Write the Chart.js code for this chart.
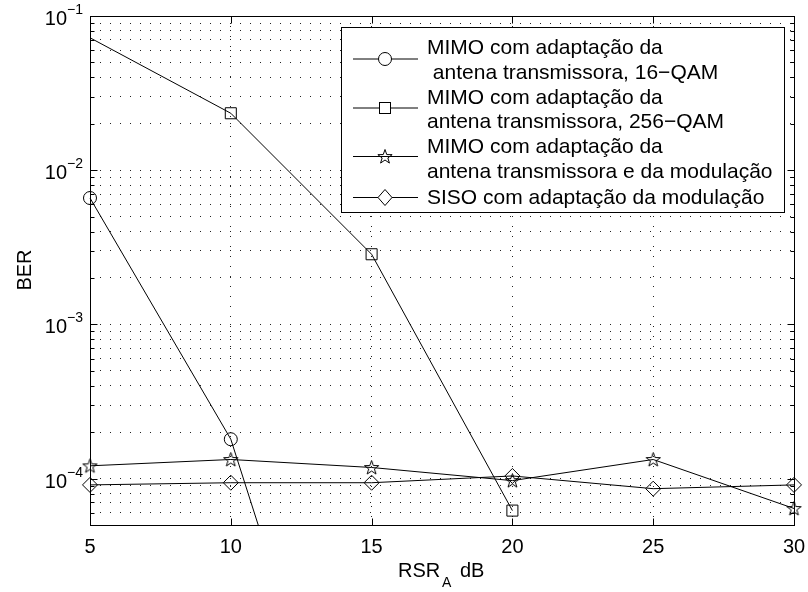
<!DOCTYPE html>
<html>
<head>
<meta charset="utf-8">
<script src="https://cdn.jsdelivr.net/npm/chart.js@4.4.1/dist/chart.umd.min.js"></script>
<style>
  html, body { margin: 0; padding: 0; background: #fff; }
  canvas { display: block; }
</style>
</head>
<body>
<canvas id="berChart" width="808" height="592"></canvas>
<script>
// ---- Data ----
const snr16 = [5, 10, 15];
const ber16 = [6.6e-3, 1.8e-4, 2.5e-7];

const snr256 = [0, 10, 15, 20];
const ber256 = [0.223, 0.0234, 2.85e-3, 6.2e-5];

const snrAdapt = [5, 10, 15, 20, 25, 30];
const berMimoAdapt = [1.21e-4, 1.33e-4, 1.18e-4, 9.7e-5, 1.33e-4, 6.4e-5];
const berSiso = [9.1e-5, 9.4e-5, 9.4e-5, 1.04e-4, 8.6e-5, 9.1e-5];

const xTicks = [5, 10, 15, 20, 25, 30];
const yExponents = [-4, -3, -2, -1];
const yMantissas = [1, 2, 3, 4, 5, 6, 7, 8, 9];
const yMin = 5e-5, yMax = 1e-1;

const legendLabels = [
  ['MIMO com adaptação da', ' antena transmissora, 16\u2212QAM'],
  ['MIMO com adaptação da', 'antena transmissora, 256\u2212QAM'],
  ['MIMO com adaptação da', 'antena transmissora e da modulação'],
  ['SISO com adaptação da modulação']
];

// grid positions on the log axis: 5e-5 .. 1e-1
let yGrid = [];
[-5, ...yExponents].forEach(e => yMantissas.forEach(m => {
  const v = +(m * Math.pow(10, e)).toPrecision(3);
  if (v >= yMin && v <= yMax) yGrid.push(v);
}));

const FONT = '"Liberation Sans", Arial, Helvetica, sans-serif';

// ---- markers ----
function drawStar(ctx, cx, cy, r) {
  ctx.beginPath();
  for (let i = 0; i < 10; i++) {
    const rr = i % 2 === 0 ? r : r * 0.4;
    const ang = -Math.PI / 2 + i * Math.PI / 5;
    const px = cx + rr * Math.cos(ang), py = cy + rr * Math.sin(ang);
    i === 0 ? ctx.moveTo(px, py) : ctx.lineTo(px, py);
  }
  ctx.closePath();
  ctx.stroke();
}
const starImg = document.createElement('canvas');
starImg.width = 17; starImg.height = 17;
(() => {
  const c = starImg.getContext('2d');
  c.strokeStyle = '#000'; c.lineWidth = 1;
  drawStar(c, 8.5, 9, 7.5);
})();

function drawMarker(ctx, kind, cx, cy) {
  ctx.save();
  ctx.strokeStyle = '#000'; ctx.lineWidth = 1;
  if (kind === 'circle') {
    ctx.beginPath(); ctx.arc(cx, cy, 6.5, 0, Math.PI * 2); ctx.stroke();
  } else if (kind === 'rect') {
    ctx.strokeRect(cx - 5.5, cy - 5.5, 11, 11);
  } else if (kind === 'star') {
    drawStar(ctx, cx, cy + 0.5, 7.5);
  } else {
    ctx.beginPath();
    ctx.moveTo(cx, cy - 8); ctx.lineTo(cx + 7, cy); ctx.lineTo(cx, cy + 8); ctx.lineTo(cx - 7, cy);
    ctx.closePath(); ctx.stroke();
  }
  ctx.restore();
}

const toPts = (xs, ys) => xs.map((v, i) => ({ x: v, y: ys[i] }));
const baseSet = {
  borderColor: '#000',
  borderWidth: 1,
  backgroundColor: 'rgba(0,0,0,0)',
  pointBorderColor: '#000',
  pointBorderWidth: 1,
  tension: 0,
  clip: { left: 10, right: 10, top: 0, bottom: 0 }
};

// ---- frame, ticks, labels, legend ----
const frame = {
  id: 'frame',
  afterDraw(chart) {
    const { ctx, chartArea: a, scales: { x, y } } = chart;
    ctx.save();
    ctx.strokeStyle = '#000';
    ctx.lineWidth = 1;
    const L = Math.round(a.left) + 0.5, R = Math.round(a.right) + 0.5;
    const T = Math.round(a.top) + 0.5, B = Math.round(a.bottom) + 0.5;
    ctx.strokeRect(L, T, R - L, B - T);

    // tick marks
    ctx.beginPath();
    xTicks.forEach(v => {
      const px = Math.round(x.getPixelForValue(v)) + 0.5;
      ctx.moveTo(px, B); ctx.lineTo(px, B - 7);
      ctx.moveTo(px, T); ctx.lineTo(px, T + 7);
    });
    yGrid.forEach(v => {
      const py = Math.round(y.getPixelForValue(v)) + 0.5;
      const len = yExponents.some(e => Math.abs(Math.pow(10, e) - v) < v * 1e-6) ? 7 : 4;
      ctx.moveTo(L, py); ctx.lineTo(L + len, py);
      ctx.moveTo(R, py); ctx.lineTo(R - len, py);
    });
    ctx.stroke();

    // tick labels
    ctx.fillStyle = '#000';
    ctx.font = '20px ' + FONT;
    ctx.textAlign = 'center';
    ctx.textBaseline = 'alphabetic';
    xTicks.forEach(v => ctx.fillText(String(v), x.getPixelForValue(v), a.bottom + 28));
    yExponents.forEach(e => {
      const py = y.getPixelForValue(Math.pow(10, e));
      ctx.font = '20px ' + FONT;
      ctx.textAlign = 'right';
      ctx.fillText('10', 67, py + 9);
      ctx.font = '14px ' + FONT;
      ctx.textAlign = 'left';
      ctx.fillText('\u2212' + Math.abs(e), 67, py - 2);
    });

    // axis titles
    ctx.font = '20px ' + FONT;
    ctx.textAlign = 'left';
    ctx.fillText('RSR', 398, 577);
    ctx.font = '14px ' + FONT;
    ctx.fillText('A', 442, 587);
    ctx.font = '20px ' + FONT;
    ctx.fillText('dB', 460, 577);
    ctx.save();
    ctx.translate(31, 270);
    ctx.rotate(-Math.PI / 2);
    ctx.textAlign = 'center';
    ctx.fillText('BER', 0, 0);
    ctx.restore();

    // legend
    const lx = 341.5, ly = 27.5, lw = 443, lh = 185;
    ctx.fillStyle = '#fff';
    ctx.fillRect(lx, ly, lw, lh);
    ctx.strokeRect(lx, ly, lw, lh);
    const kinds = ['circle', 'rect', 'star', 'diamond'];
    const markerY = [58.5, 107.5, 156, 197];
    const textY = [[54, 79], [103.5, 128], [153, 177.5], [204]];
    ctx.fillStyle = '#000';
    ctx.font = '21px ' + FONT;
    ctx.textAlign = 'left';
    kinds.forEach((k, i) => {
      const my = markerY[i] + 0.5;
      ctx.beginPath();
      ctx.moveTo(353, my); ctx.lineTo(418, my);
      ctx.stroke();
      ctx.fillStyle = '#fff';
      if (k === 'circle') { ctx.beginPath(); ctx.arc(385, my, 6.5, 0, Math.PI * 2); ctx.fill(); }
      if (k === 'rect') ctx.fillRect(379.5, my - 5.5, 11, 11);
      if (k === 'diamond') { ctx.beginPath(); ctx.moveTo(385, my - 8); ctx.lineTo(392, my); ctx.lineTo(385, my + 8); ctx.lineTo(378, my); ctx.fill(); }
      ctx.fillStyle = '#000';
      drawMarker(ctx, k, 385, my);
      legendLabels[i].forEach((t, j) => ctx.fillText(t, 427, textY[i][j]));
    });
    ctx.restore();
  }
};

new Chart(document.getElementById('berChart'), {
  type: 'line',
  data: {
    datasets: [
      { ...baseSet, label: legendLabels[0].join(''), data: toPts(snr16, ber16), pointStyle: 'circle', pointRadius: 6.5 },
      { ...baseSet, label: legendLabels[1].join(''), data: toPts(snr256, ber256), pointStyle: 'rect', pointRadius: 7.8, clip: 0 },
      { ...baseSet, label: legendLabels[2].join(''), data: toPts(snrAdapt, berMimoAdapt), pointStyle: starImg, pointRadius: 8 },
      { ...baseSet, label: legendLabels[3].join(''), data: toPts(snrAdapt, berSiso), pointStyle: 'rectRot', pointRadius: 7.5 }
    ]
  },
  options: {
    responsive: false,
    animation: false,
    events: [],
    layout: { padding: { left: 90, top: 16, right: 14, bottom: 67 } },
    plugins: { legend: { display: false }, tooltip: { enabled: false } },
    scales: {
      x: {
        type: 'linear',
        min: 5,
        max: 30,
        ticks: { display: false, stepSize: 5 },
        grid: { color: '#222', lineWidth: 1, drawTicks: false },
        border: { display: false, dash: [1, 9] }
      },
      y: {
        type: 'logarithmic',
        min: yMin,
        max: yMax,
        afterBuildTicks: scale => { scale.ticks = yGrid.map(v => ({ value: v })); },
        ticks: { display: false },
        grid: { color: '#222', lineWidth: 1, drawTicks: false },
        border: { display: false, dash: [1, 9] }
      }
    }
  },
  plugins: [frame]
});
</script>
</body>
</html>
